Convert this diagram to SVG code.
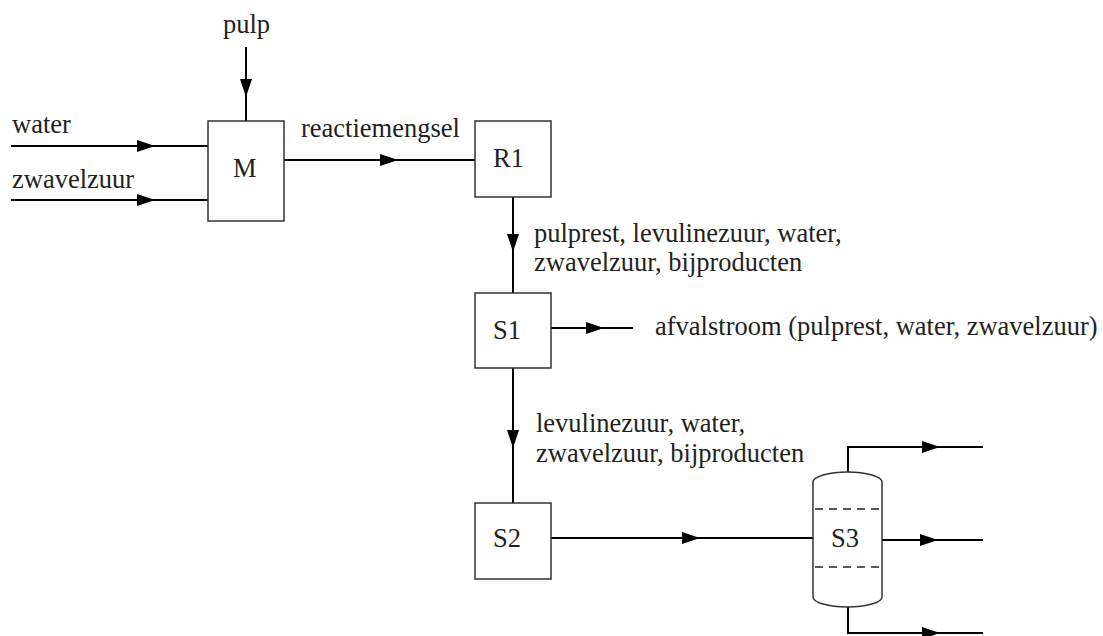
<svg xmlns="http://www.w3.org/2000/svg" width="1103" height="636" viewBox="0 0 1103 636">
<defs>
<marker id="ah" markerUnits="userSpaceOnUse" viewBox="0 0 18 12" refX="18" refY="6" markerWidth="18" markerHeight="12" orient="auto">
<path d="M0,0 L18,6 L0,12 Z" fill="#000"/>
</marker>
<style>
.t{font-family:'Liberation Serif','Times New Roman',Times,serif;font-size:26.5px;fill:#231f20}
.box{fill:#fff;stroke:#333;stroke-width:1.5}
.c{fill:none;stroke:#000;stroke-width:2}
.a{marker-mid:url(#ah)}
.dash{stroke:#222;stroke-width:1.5;stroke-dasharray:8,6;fill:none}
</style>
</defs>
<rect width="1103" height="636" fill="#fff"/>
<g id="connectors">
<path class="c a" d="M246,47 L246,97 L246,121"/>
<path class="c a" d="M11,146 L155,146 L208,146"/>
<path class="c a" d="M11,200 L155,200 L208,200"/>
<path class="c a" d="M284,160 L398,160 L475,160"/>
<path class="c a" d="M513,197 L513,252 L513,293"/>
<path class="c a" d="M551,328 L604,328 L633,328"/>
<path class="c a" d="M513,368 L513,448 L513,503"/>
<path class="c a" d="M551,538 L700,538 L813,538"/>
<path class="c a" d="M882,540 L938,540 L983,540"/>
<path class="c" d="M848,472 L848,447"/>
<path class="c a" d="M847,447 L940,447 L983,447"/>
<path class="c" d="M848,607 L848,633"/>
<path class="c a" d="M847,633 L940,633 L983,633"/>
</g>
<g id="labels">
<text class="t" x="223" y="33">pulp</text>
<text class="t" x="12" y="133">water</text>
<text class="t" x="12" y="188">zwavelzuur</text>
<text class="t" x="301" y="137">reactiemengsel</text>
<text class="t" x="534" y="242">pulprest, levulinezuur, water,</text>
<text class="t" x="534" y="271">zwavelzuur, bijproducten</text>
<text class="t" x="655" y="335">afvalstroom (pulprest, water, zwavelzuur)</text>
<text class="t" x="536" y="432">levulinezuur, water,</text>
<text class="t" x="536" y="462">zwavelzuur, bijproducten</text>
</g>
<g id="M">
<rect class="box" x="208" y="121" width="76" height="100"/>
<text class="t" x="233" y="177">M</text>
</g>
<g id="R1">
<rect class="box" x="475" y="121" width="76" height="76"/>
<text class="t" x="493" y="167">R1</text>
</g>
<g id="S1">
<rect class="box" x="475" y="293" width="76" height="75"/>
<text class="t" x="493" y="339">S1</text>
</g>
<g id="S2">
<rect class="box" x="475" y="503" width="76" height="76"/>
<text class="t" x="493" y="547">S2</text>
</g>
<g id="S3">
<path class="box" d="M813,482 A34.5,10 0 0 1 882,482 L882,597 A34.5,10 0 0 1 813,597 Z"/>
<line class="dash" x1="815" y1="509" x2="882" y2="509"/>
<line class="dash" x1="815" y1="567" x2="882" y2="567"/>
<text class="t" x="845" y="547" text-anchor="middle">S3</text>
</g>
</svg>
